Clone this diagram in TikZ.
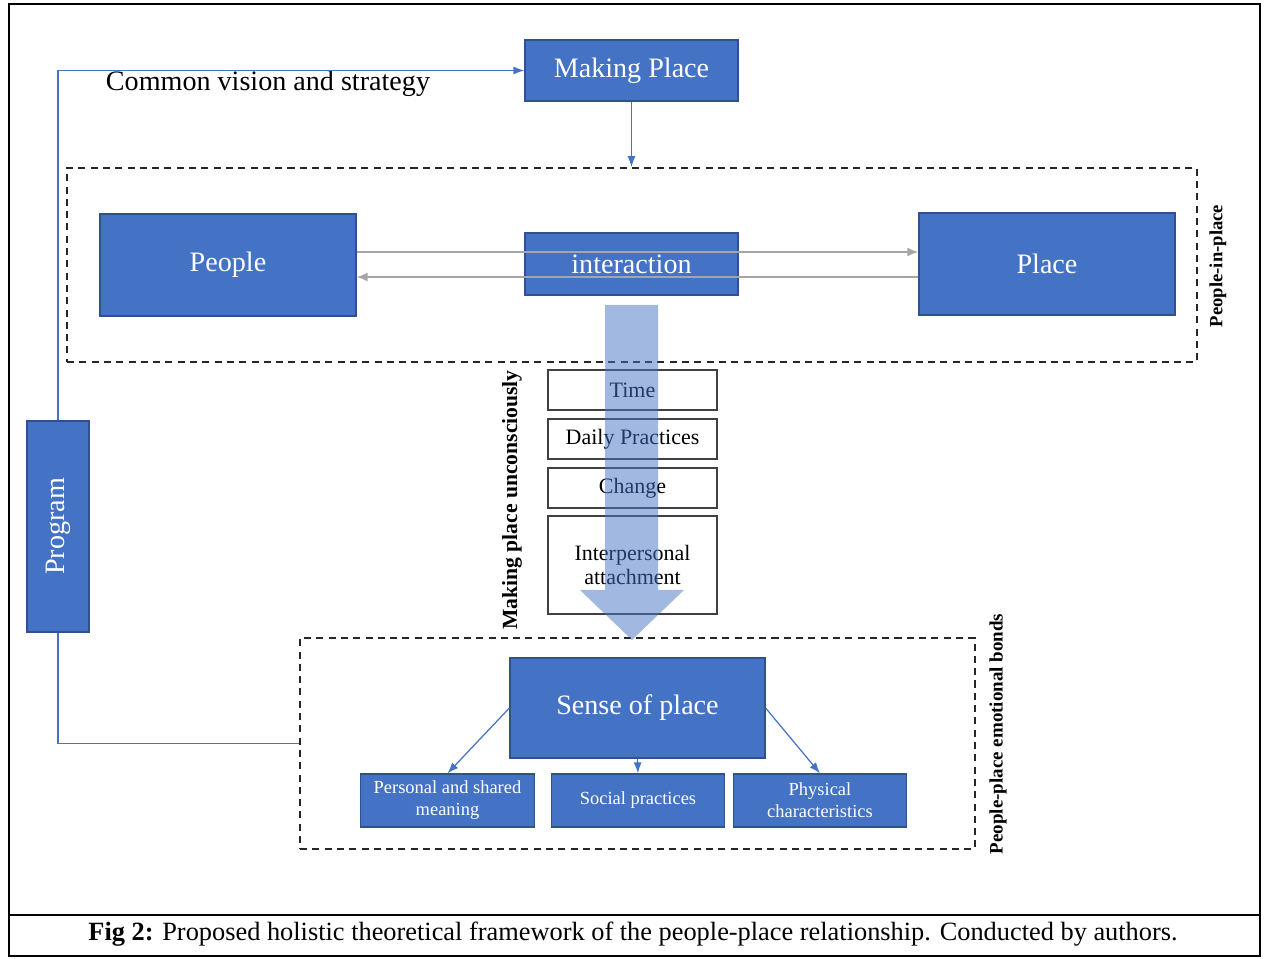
\documentclass[tikz,border=0pt]{standalone}
\usepackage{fontspec}
\setmainfont{Liberation Serif}
\usetikzlibrary{arrows.meta}
\definecolor{boxblue}{HTML}{4472C4}
\definecolor{boxedge}{HTML}{2F528F}
\definecolor{linkgray}{HTML}{A5A5A5}
\begin{document}
\begin{tikzpicture}[
  bluebox/.style={draw=boxedge, line width=0.7pt, fill=boxblue, text=white, align=center, inner sep=0pt},
  factor/.style={draw=black!75, line width=0.8pt, fill=white, align=center, inner sep=0pt, minimum width=3.38cm, font=\fontsize{12.5}{14}\selectfont},
  branch/.style={bluebox, minimum width=3.47cm, minimum height=1.06cm, font=\fontsize{10.5}{12.5}\selectfont},
  frame/.style={draw=black!85, dashed, dash pattern=on 4pt off 3pt, line width=1pt, inner sep=0pt},
  link/.style={draw=boxblue, line width=0.7pt, -{Latex[length=2.2mm,width=1.6mm]}},
  grey/.style={draw=linkgray, line width=1pt, -{Latex[length=2.2mm,width=1.8mm]}},
  side/.style={rotate=90, font=\bfseries\fontsize{12.3}{14}\selectfont}]
  \useasboundingbox (0,0) rectangle (25.3,-19.18);
  \draw[line width=1.1pt] (0.18,-0.08) rectangle (25.2,-19.12);
  \draw[line width=1.1pt] (0.18,-18.3) -- (25.2,-18.3);
  \node(Caption) at (12.66,-18.68) {\fontsize{15}{17}\selectfont\textbf{Fig 2:} Proposed holistic theoretical framework of the people-place relationship. Conducted by authors.};

  \node[frame, minimum width=22.6cm, minimum height=3.88cm](PIP) at (12.64,-5.3) {};
  \node[frame, minimum width=13.5cm, minimum height=4.22cm](Bonds) at (12.75,-14.87) {};

  \node[bluebox, minimum width=4.26cm, minimum height=1.22cm, font=\fontsize{16}{19}\selectfont](Making) at (12.63,-1.41) {Making Place};
  \node(Vision) at (5.36,-1.68) {\fontsize{16}{19}\selectfont Common vision and strategy};
  \node[bluebox, minimum width=5.12cm, minimum height=2.04cm, font=\fontsize{16}{19}\selectfont](People) at (4.56,-5.3) {People};
  \node[bluebox, minimum width=5.12cm, minimum height=2.04cm, font=\fontsize{16}{19}\selectfont](Place) at (20.94,-5.28) {Place};
  \node[bluebox, minimum width=4.26cm, minimum height=1.24cm, font=\fontsize{16}{19}\selectfont](Inter) at (12.63,-5.28) {interaction};
  \node[bluebox, rotate=90, minimum width=4.22cm, minimum height=1.24cm, font=\fontsize{16}{19}\selectfont](Program) at (1.16,-10.53) {Program};

  \node[factor, minimum height=0.8cm](Time) at (12.65,-7.8) {Time};
  \node[factor, minimum height=0.8cm](Daily) at (12.65,-8.78) {Daily Practices};
  \node[factor, minimum height=0.8cm](Change) at (12.65,-9.76) {Change};
  \node[factor, minimum height=1.96cm](Attach) at (12.65,-11.3) {Interpersonal\\attachment};

  \fill[boxblue, fill opacity=0.5] (12.1,-6.1) -- (13.16,-6.1) -- (13.16,-11.8) -- (13.68,-11.8)
    -- (12.64,-12.8) -- (11.6,-11.8) -- (12.1,-11.8) -- cycle;

  \node[bluebox, minimum width=5.1cm, minimum height=2.0cm, font=\fontsize{16}{19}\selectfont](Sense) at (12.75,-14.16) {Sense of place};
  \node[branch](Meaning) at (8.95,-16.01) {Personal and shared\\meaning};
  \node[branch](Social) at (12.76,-16.01) {Social practices};
  \node[branch](Physical) at (16.4,-16.01) {Physical\\characteristics};

  \node[side](Unconscious) at (10.24,-10.0) {Making place unconsciously};
  \node[side, font=\bfseries\fontsize{10.8}{12}\selectfont](Emotional) at (19.96,-14.68) {People-place emotional bonds};
  \node[side, font=\bfseries\fontsize{10.6}{12}\selectfont](InPlace) at (24.36,-5.32) {People-in-place};

  \draw[link] (Program.east) |- (Making.west);
  \draw[draw=boxblue, line width=0.7pt] (Program.west) |- (Bonds.west);
  \draw[link] (Making.south) -- (Making.south |- PIP.north);
  \draw[grey] ([yshift=2.6mm]People.east) -- ([yshift=2.6mm]People.east -| Place.west);
  \draw[grey] ([yshift=-2.4mm]People.east -| Place.west) -- ([yshift=-2.4mm]People.east);
  \draw[link] (Sense.west) -- (Meaning.north);
  \draw[link] (Sense.south) -- (Social.north);
  \draw[link] (Sense.east) -- (Physical.north);
\end{tikzpicture}
\end{document}
